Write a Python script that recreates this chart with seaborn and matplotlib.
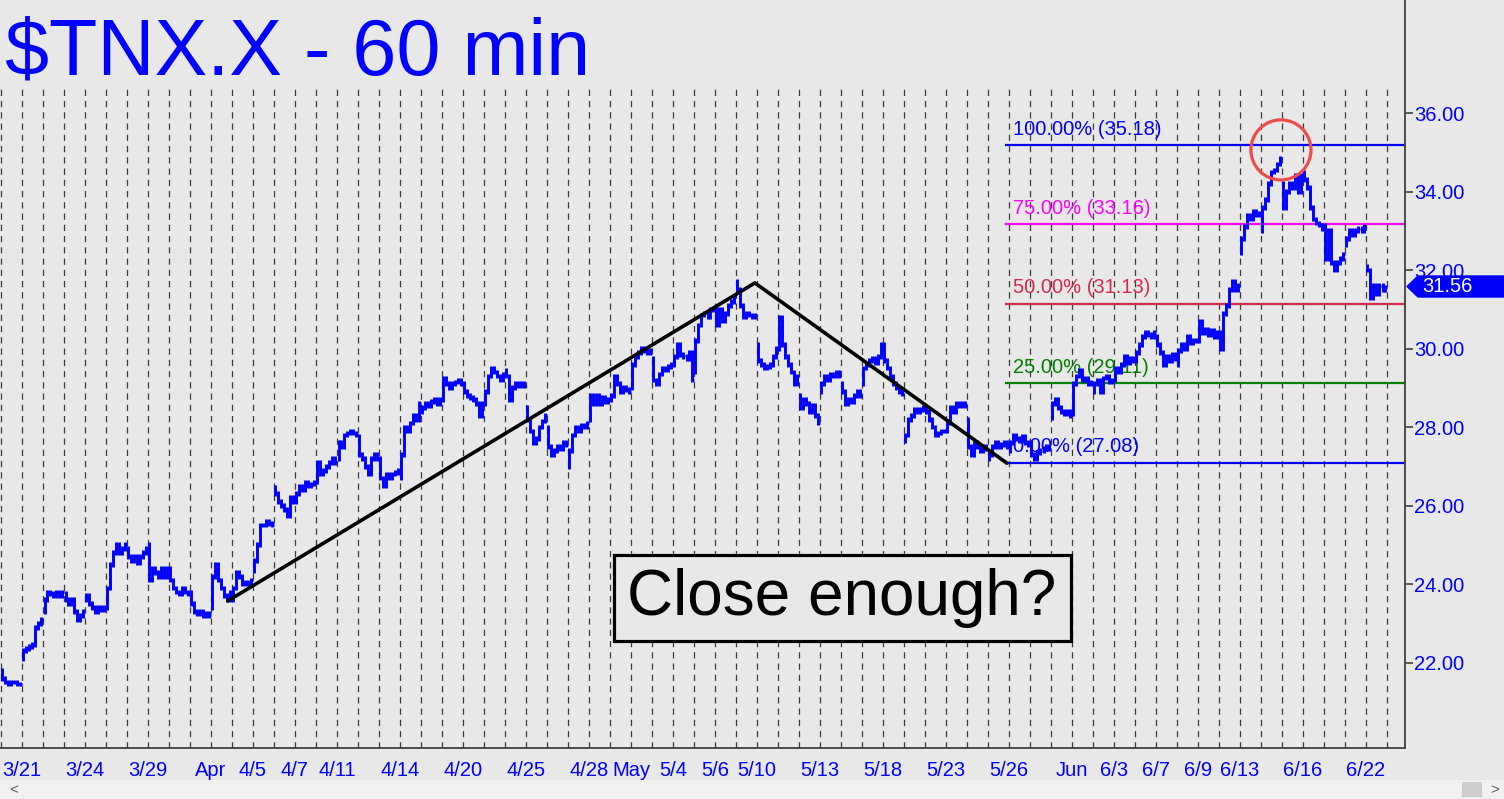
import matplotlib
matplotlib.use("Agg")
import numpy as np
import pandas as pd
import matplotlib.pyplot as plt
import seaborn as sns
from matplotlib.patches import Ellipse, Polygon, Rectangle

sns.set_theme(style="white")
plt.rcParams['font.family'] = ['Liberation Sans', 'DejaVu Sans']

BG = '#e8e8e8'
BLUE = '#0000ff'

# first print of each session, 3/18 .. 6/22 (one trading day per entry)
session_open = [
    21.8, 22.1, 23.3, 23.75, 23.6, 23.4, 24.9, 25.0, 24.4, 23.8,
    23.4, 23.6, 24.35, 26.45, 26.1, 26.6, 27.2, 27.75, 27.2, 26.7,
    28.4, 28.7, 29.1, 28.6, 29.45, 28.5, 28.0, 27.0, 28.2, 28.7,
    29.0, 29.75, 29.6, 29.4, 31.0, 31.7, 30.1, 30.0, 28.8, 28.9,
    29.1, 29.1, 30.1, 27.65, 28.5, 27.9, 28.2, 27.2, 27.4, 27.6,
    28.25, 28.35, 28.9, 29.2, 29.7, 30.3, 29.6, 30.2, 30.4, 32.45,
    33.0, 34.2, 34.5, 33.15, 32.65, 32.1,
]

# hourly closes, 7 bars per session
hourly_close = [
    [21.6, 21.5, 21.45, 21.5, 21.5, 21.45, 21.45],
    [22.3, 22.35, 22.4, 22.45, 22.9, 23.0, 23.1],
    [23.6, 23.8, 23.75, 23.7, 23.8, 23.7, 23.8],
    [23.6, 23.5, 23.6, 23.3, 23.1, 23.2, 23.3],
    [23.7, 23.5, 23.4, 23.3, 23.4, 23.35, 23.4],
    [23.9, 24.5, 24.8, 25.0, 24.8, 24.9, 25.0],
    [24.7, 24.6, 24.7, 24.55, 24.7, 24.8, 24.9],
    [24.1, 24.4, 24.3, 24.2, 24.4, 24.2, 24.4],
    [24.1, 23.9, 23.8, 23.75, 23.9, 23.8, 23.75],
    [23.5, 23.3, 23.25, 23.3, 23.2, 23.25, 23.2],
    [24.2, 24.5, 24.1, 23.9, 23.7, 23.6, 23.8],
    [23.9, 24.3, 24.2, 24.0, 24.05, 24.0, 24.1],
    [24.6, 25.0, 25.5, 25.5, 25.6, 25.55, 25.5],
    [26.3, 26.1, 26.0, 25.9, 25.75, 26.2, 26.1],
    [26.3, 26.5, 26.4, 26.6, 26.5, 26.55, 26.6],
    [27.1, 26.8, 26.9, 27.0, 27.1, 27.2, 27.1],
    [27.6, 27.5, 27.8, 27.85, 27.9, 27.85, 27.8],
    [27.3, 27.2, 27.0, 26.8, 27.2, 27.3, 27.2],
    [26.7, 26.5, 26.8, 26.7, 26.8, 26.85, 26.9],
    [27.3, 28.0, 27.9, 28.1, 28.3, 28.2, 28.6],
    [28.5, 28.6, 28.55, 28.65, 28.7, 28.6, 28.7],
    [29.25, 29.1, 29.0, 29.1, 29.15, 29.2, 29.1],
    [28.9, 28.8, 28.75, 28.7, 28.6, 28.3, 28.6],
    [28.9, 29.3, 29.5, 29.4, 29.3, 29.2, 29.35],
    [29.3, 28.7, 29.0, 29.1, 29.05, 29.1, 29.05],
    [28.2, 27.9, 27.6, 27.7, 28.0, 28.15, 28.3],
    [27.5, 27.3, 27.4, 27.5, 27.45, 27.6, 27.55],
    [27.4, 27.8, 28.0, 27.9, 28.05, 28.0, 28.1],
    [28.8, 28.6, 28.8, 28.6, 28.75, 28.65, 28.7],
    [28.8, 29.3, 29.1, 28.9, 29.0, 28.95, 28.9],
    [29.6, 29.8, 29.9, 30.0, 29.95, 29.9, 29.95],
    [29.2, 29.1, 29.35, 29.5, 29.45, 29.55, 29.6],
    [29.8, 30.1, 29.85, 29.8, 29.75, 29.9, 29.2],
    [30.2, 30.6, 30.85, 30.9, 30.8, 31.0, 31.0],
    [30.6, 31.0, 30.7, 30.9, 31.1, 31.2, 31.3],
    [31.5, 31.1, 30.8, 30.9, 30.85, 30.8, 30.85],
    [29.7, 29.6, 29.5, 29.55, 29.6, 29.8, 30.0],
    [30.8, 30.1, 29.8, 29.6, 29.4, 29.1, 29.3],
    [28.5, 28.7, 28.6, 28.4, 28.55, 28.3, 28.1],
    [29.1, 29.3, 29.2, 29.35, 29.3, 29.4, 29.3],
    [28.9, 28.6, 28.7, 28.65, 28.8, 28.9, 28.8],
    [29.5, 29.6, 29.7, 29.75, 29.65, 29.8, 30.1],
    [29.7, 29.5, 29.3, 29.1, 29.0, 28.9, 28.85],
    [27.8, 28.2, 28.3, 28.45, 28.4, 28.45, 28.5],
    [28.4, 28.2, 28.0, 27.8, 27.85, 27.9, 27.9],
    [28.1, 28.5, 28.4, 28.6, 28.55, 28.6, 28.55],
    [27.5, 27.3, 27.6, 27.5, 27.4, 27.5, 27.45],
    [27.3, 27.5, 27.6, 27.5, 27.55, 27.6, 27.5],
    [27.6, 27.8, 27.7, 27.65, 27.75, 27.6, 27.55],
    [27.3, 27.2, 27.35, 27.4, 27.45, 27.5, 27.45],
    [28.6, 28.7, 28.5, 28.4, 28.35, 28.4, 28.3],
    [29.1, 29.3, 29.45, 29.2, 29.25, 29.1, 29.15],
    [29.1, 29.2, 28.9, 29.25, 29.3, 29.15, 29.2],
    [29.5, 29.4, 29.6, 29.8, 29.65, 29.75, 29.7],
    [29.9, 30.1, 30.3, 30.4, 30.35, 30.3, 30.4],
    [30.1, 29.9, 29.6, 29.8, 29.7, 29.85, 29.75],
    [29.95, 30.1, 30.0, 30.3, 30.15, 30.2, 30.2],
    [30.7, 30.4, 30.5, 30.35, 30.45, 30.3, 30.4],
    [30.0, 30.9, 31.1, 31.5, 31.7, 31.5, 31.6],
    [32.8, 33.1, 33.4, 33.3, 33.5, 33.4, 33.45],
    [33.6, 33.8, 34.2, 34.5, 34.55, 34.7, 34.85],
    [33.6, 34.0, 34.2, 34.1, 34.4, 34.0, 34.4],
    [34.3, 34.1, 33.6, 33.3, 33.2, 33.15, 33.05],
    [32.3, 33.0, 32.2, 32.0, 32.2, 32.3, 32.4],
    [32.8, 33.0, 32.9, 33.0, 33.05, 33.0, 33.1],
    [32.0, 31.3, 31.6, 31.4, 31.6, 31.5, 31.56],
]

tick_days = [1, 4, 7, 10, 12, 14, 16, 19, 22, 25, 28, 30, 32, 34, 36, 39,
             42, 45, 48, 51, 53, 55, 57, 59, 62, 65]
tick_labels = ['3/21', '3/24', '3/29', 'Apr', '4/5', '4/7', '4/11', '4/14',
               '4/20', '4/25', '4/28', 'May', '5/4', '5/6', '5/10', '5/13',
               '5/18', '5/23', '5/26', 'Jun', '6/3', '6/7', '6/9', '6/13',
               '6/16', '6/22']

# A-B-C pivots (session index, price)
pivot_day = [10.8, 35.9, 47.9]
pivot_price = [23.57, 31.67, 27.08]

fib_pct = ['100.00%', '75.00%', '50.00%', '25.00%', '0.00%']
fib_price = [35.18, 33.16, 31.13, 29.11, 27.08]
fib_color = [BLUE, '#ff00ff', '#d6284f', '#008000', BLUE]
fib_start = 47.8

last_price = 31.56

# ---- build bar table
rows = []
for k, (o, closes) in enumerate(zip(session_open, hourly_close)):
    prev = o
    for j, c in enumerate(closes):
        rows.append({'x': k + (j + 0.5) / 7, 'open': prev, 'close': c})
        prev = c
bars = pd.DataFrame(rows)
bars['lo'] = bars[['open', 'close']].min(axis=1) - 0.06
bars['hi'] = bars[['open', 'close']].max(axis=1) + 0.06

W, H = 1504, 799
fig = plt.figure(figsize=(W / 100, H / 100), dpi=100, facecolor=BG)
ax = fig.add_axes([0, (H - 748) / H, 1405 / W, 748 / H], facecolor=BG)

x_lo, x_hi = -1 / 21, 1404 / 21
y_lo, y_hi = 19.822, 38.879
ax.set_xlim(x_lo, x_hi)
ax.set_ylim(y_lo, y_hi)

# daily dashed gridlines
n_days = len(session_open) + 1
ax.vlines(np.arange(n_days), y_lo, 36.64, colors='#3a3a3a', lw=0.9,
          linestyles=(0, (5, 4)), zorder=1)

# fib levels
for pct, p, c in zip(fib_pct, fib_price, fib_color):
    ax.hlines(p, fib_start, x_hi, colors=c, lw=1.6, zorder=2)
    ax.text(fib_start + 0.4, p + 0.17, f"{pct} ({p:.2f})", color=c,
            fontsize=14.5, va='bottom', ha='left', zorder=2)

# hourly bars
ax.vlines(bars['x'], bars['lo'], bars['hi'], colors=BLUE, lw=2.1, zorder=3)
ax.hlines(bars['close'], bars['x'], bars['x'] + 0.09, colors=BLUE, lw=2.1, zorder=3)

# A-B-C trend line
sns.lineplot(x=pivot_day, y=pivot_price, color='black', lw=2.6, sort=False,
             ax=ax, zorder=4)

# red circle at the high
ax.add_patch(Ellipse((60.95, 35.06), 2.86, 1.53, fill=False,
                     edgecolor='#ee4b4b', lw=2.3, zorder=5))

# annotation box
ax.add_patch(Rectangle((614 / 1405, 107 / 748), 457 / 1405, 86 / 748,
                       transform=ax.transAxes, facecolor=BG,
                       edgecolor='black', lw=2.3, zorder=6))
ax.text(842 / 1405, 150 / 748, 'Close enough?', transform=ax.transAxes,
        fontsize=46, ha='center', va='center', color='black', zorder=7)

# axes styling
for s in ['top', 'left']:
    ax.spines[s].set_visible(False)
for s in ['right', 'bottom']:
    ax.spines[s].set_color('#404040')
    ax.spines[s].set_linewidth(1.3)

ax.yaxis.tick_right()
yt = np.arange(22, 37, 2)
ax.set_yticks(yt)
ax.set_yticklabels([f"{v:.2f}" for v in yt], color=BLUE, fontsize=14.5)
ax.tick_params(axis='y', direction='out', length=5.5, width=1.2,
               color='#404040', pad=1)

ax.set_xticks(np.arange(n_days), minor=True)
ax.set_xticks(tick_days)
ax.set_xticklabels(tick_labels, color=BLUE, fontsize=14.5)
ax.tick_params(axis='x', which='both', direction='out', length=7.5,
               width=1.0, color='#404040', pad=1.5)
ax.set_xlabel('')
ax.set_ylabel('')

# title
fig.text(5 / W, 1 - 75 / H, '$TNX.X - 60 min', color=BLUE, fontsize=57,
         ha='left', va='baseline')

# last price marker (covers the lower half of the 32.00 label, as in the source)
pts = [(1407, 286.5), (1418, 276), (1504, 276), (1504, 297), (1418, 297)]
fig.patches.append(Polygon([(px / W, 1 - py / H) for px, py in pts],
                           closed=True, transform=fig.transFigure,
                           facecolor=BLUE, edgecolor=BLUE, zorder=10))
fig.text(1422 / W, 1 - 287 / H, f"{last_price:.2f}", color='white',
         fontsize=14.5, ha='left', va='center', zorder=11)

# scroll bar strip
fig.patches.append(Rectangle((0, 0), 1, 19 / H, transform=fig.transFigure,
                             facecolor='#f0f0f0', edgecolor='none', zorder=0))
fig.patches.append(Rectangle((1462 / W, 2 / H), 20 / W, 15 / H,
                             transform=fig.transFigure, facecolor='#cdcdcd',
                             edgecolor='none', zorder=1))
fig.text(14 / W, 9 / H, '<', color='#606060', fontsize=11, ha='center', va='center')
fig.text(1495 / W, 9 / H, '>', color='#606060', fontsize=11, ha='center', va='center')

fig.savefig('out.png', dpi=100, facecolor=BG)
